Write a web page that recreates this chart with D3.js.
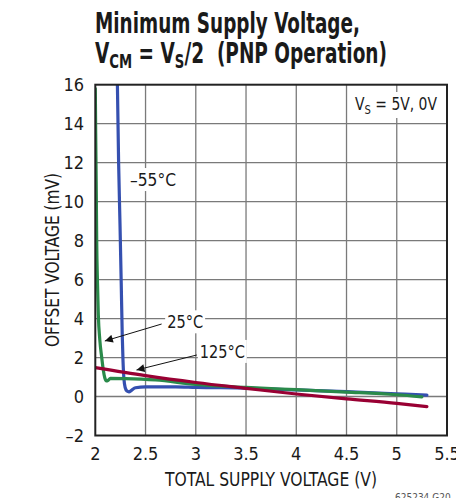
<!DOCTYPE html>
<html>
<head>
<meta charset="utf-8">
<script src="https://cdn.jsdelivr.net/npm/d3@7"></script>
<style>
  body { margin: 0; background: #fff; }
  text { font-family: "Liberation Sans Narrow", "DejaVu Sans Condensed", Roboto, sans-serif; fill: #1a1a1a; }
</style>
</head>
<body>
<svg id="chart" width="456" height="498"></svg>
<script>
// axis ticks
const xTicks = [2, 2.5, 3, 3.5, 4, 4.5, 5, 5.5];
const xTickLabels = ["2", "2.5", "3", "3.5", "4", "4.5", "5", "5.5"];
const yTicks = [-2, 0, 2, 4, 6, 8, 10, 12, 14, 16];
const yTickLabels = ["–2", "0", "2", "4", "6", "8", "10", "12", "14", "16"];

// -55°C (blue)
const supplyM55 = [2.22, 2.232, 2.246, 2.258, 2.268, 2.276, 2.285, 2.298, 2.315, 2.335, 2.36, 2.4, 2.5, 2.8, 3.0, 3.5, 4.0, 4.5, 5.0, 5.3];
const offsetM55 = [16, 12, 8.8, 5.8, 3.2, 1.8, 0.9, 0.45, 0.28, 0.24, 0.32, 0.45, 0.5, 0.5, 0.47, 0.43, 0.34, 0.25, 0.14, 0.07];

// 25°C (green)
const supply25 = [2.0, 2.004, 2.009, 2.014, 2.022, 2.03, 2.045, 2.064, 2.08, 2.095, 2.11, 2.125, 2.15, 2.3, 2.6, 3.0, 3.5, 4.0, 4.5, 5.0, 5.25];
const offset25 = [15.8, 13.5, 11, 8, 5.8, 4.2, 2.9, 2.0, 1.35, 0.95, 0.8, 0.82, 0.93, 0.92, 0.85, 0.62, 0.47, 0.35, 0.23, 0.09, -0.02];

// 125°C (dark red)
const supply125 = [2.0, 2.5, 3.0, 3.5, 4.0, 4.5, 5.0, 5.3];
const offset125 = [1.48, 1.07, 0.72, 0.42, 0.13, -0.12, -0.35, -0.52];

const seriesNames = ["–55°C", "25°C", "125°C"];
const seriesColors = ["#3550b0", "#2a8a4a", "#990033"];

const svg = d3.select("#chart");

const x = d3.scaleLinear().domain([2, 5.5]).range([95.3, 447]);
const y = d3.scaleLinear().domain([-2, 16]).range([435.5, 84.7]);

// title
svg.append("text")
  .attr("x", 95).attr("y", 33)
  .attr("font-size", 28).attr("font-weight", "bold")
  .attr("textLength", 265).attr("lengthAdjust", "spacingAndGlyphs")
  .text("Minimum Supply Voltage,");

const t2 = svg.append("text")
  .attr("x", 95).attr("y", 63)
  .attr("font-size", 28).attr("font-weight", "bold")
  .attr("textLength", 292).attr("lengthAdjust", "spacingAndGlyphs")
  .style("white-space", "pre");
t2.append("tspan").text("V");
t2.append("tspan").attr("font-size", 20).attr("dy", 5).text("CM");
t2.append("tspan").attr("dy", -5).text(" = V");
t2.append("tspan").attr("font-size", 20).attr("dy", 5).text("S");
t2.append("tspan").attr("dy", -5).text("/2  (PNP Operation)");

// grid
const grid = svg.append("g").attr("stroke", "#7a7a7a").attr("stroke-width", 1.3);
grid.selectAll(".gx")
  .data(xTicks.slice(1, -1))
  .enter().append("line")
  .attr("x1", (d) => x(d)).attr("x2", (d) => x(d))
  .attr("y1", y(-2)).attr("y2", y(16));
grid.selectAll(".gy")
  .data(yTicks.slice(1, -1))
  .enter().append("line")
  .attr("x1", x(2)).attr("x2", x(5.5))
  .attr("y1", (d) => y(d)).attr("y2", (d) => y(d));

// tick labels
svg.append("g").selectAll("text")
  .data(xTicks)
  .enter().append("text")
  .attr("x", (d) => x(d)).attr("y", 460)
  .attr("text-anchor", "middle").attr("font-size", 18)
  .text((d, i) => xTickLabels[i]);

svg.append("g").selectAll("text")
  .data(yTicks)
  .enter().append("text")
  .attr("x", 84).attr("y", (d) => y(d) + 6.5)
  .attr("text-anchor", "end").attr("font-size", 18)
  .text((d, i) => yTickLabels[i]);

// axis titles
svg.append("text")
  .attr("x", 271).attr("y", 486)
  .attr("text-anchor", "middle").attr("font-size", 19)
  .attr("textLength", 212).attr("lengthAdjust", "spacingAndGlyphs")
  .text("TOTAL SUPPLY VOLTAGE (V)");

svg.append("text")
  .attr("transform", "translate(59,260) rotate(-90)")
  .attr("text-anchor", "middle").attr("font-size", 19)
  .attr("textLength", 174).attr("lengthAdjust", "spacingAndGlyphs")
  .text("OFFSET VOLTAGE (mV)");

// text with a white patch behind it
const label = (g, px, py, size, len) => {
  const t = g.append("text").attr("x", px).attr("y", py).attr("font-size", size);
  if (len) t.attr("textLength", len).attr("lengthAdjust", "spacingAndGlyphs");
  return t;
};
const backIt = (g, t, pad) => {
  const b = t.node().getBBox();
  g.insert("rect", () => t.node())
    .attr("x", b.x - pad).attr("y", b.y - 1)
    .attr("width", b.width + 2 * pad).attr("height", b.height + 2)
    .attr("fill", "#fff");
};

const notes = svg.append("g");

// supply legend
const vs = label(notes, 355, 110, 18, 82);
vs.append("tspan").text("V");
vs.append("tspan").attr("font-size", 13).attr("dy", 4).text("S");
vs.append("tspan").attr("dy", -4).text(" = 5V, 0V");
backIt(notes, vs, 3);

// curves
svg.append("clipPath").attr("id", "plotClip")
  .append("rect")
  .attr("x", x(2)).attr("y", y(16))
  .attr("width", x(5.5) - x(2)).attr("height", y(-2) - y(16));

const line = d3.line()
  .x((d) => x(d[0]))
  .y((d) => y(d[1]))
  .curve(d3.curveMonotoneX);

const seriesData = [
  d3.zip(supplyM55, offsetM55),
  d3.zip(supply25, offset25),
  d3.zip(supply125, offset125)
];

svg.append("g").attr("clip-path", "url(#plotClip)")
  .selectAll("path")
  .data(seriesData)
  .enter().append("path")
  .attr("d", line)
  .attr("fill", "none")
  .attr("stroke", (d, i) => seriesColors[i])
  .attr("stroke-width", 3.2)
  .attr("stroke-linejoin", "round")
  .attr("stroke-linecap", "round");

// frame
svg.append("rect")
  .attr("x", x(2)).attr("y", y(16))
  .attr("width", x(5.5) - x(2)).attr("height", y(-2) - y(16))
  .attr("fill", "none").attr("stroke", "#222").attr("stroke-width", 2);

// temperature labels and arrows
svg.append("defs").append("marker")
  .attr("id", "head")
  .attr("viewBox", "0 0 10 10")
  .attr("refX", 10).attr("refY", 5)
  .attr("markerWidth", 12).attr("markerHeight", 8)
  .attr("markerUnits", "userSpaceOnUse")
  .attr("orient", "auto")
  .append("path").attr("d", "M0,0 L10,5 L0,10 Z").attr("fill", "#111");

const tempLabels = [
  { name: seriesNames[0], tx: 2.345, ty: 10.8, len: 46 },
  { name: seriesNames[1], tx: 2.715, ty: 3.5, len: 36 },
  { name: seriesNames[2], tx: 3.04, ty: 1.98, len: 45 }
];
const arrows = [
  { x0: 2.66, y0: 3.72, x1: 2.095, y1: 2.85 },
  { x0: 3.01, y0: 2.13, x1: 2.41, y1: 1.36 }
];

const ann = svg.append("g");
arrows.forEach((a) => {
  ann.append("line")
    .attr("x1", x(a.x0)).attr("y1", y(a.y0))
    .attr("x2", x(a.x1)).attr("y2", y(a.y1))
    .attr("stroke", "#111").attr("stroke-width", 1)
    .attr("marker-end", "url(#head)");
});
tempLabels.forEach((d) => {
  const t = label(ann, x(d.tx), y(d.ty), 18, d.len).text(d.name);
  backIt(ann, t, 2);
});

// figure code
svg.append("text")
  .attr("x", 395).attr("y", 501)
  .attr("font-size", 10).style("fill", "#555")
  .text("625234 G20");
</script>
</body>
</html>
